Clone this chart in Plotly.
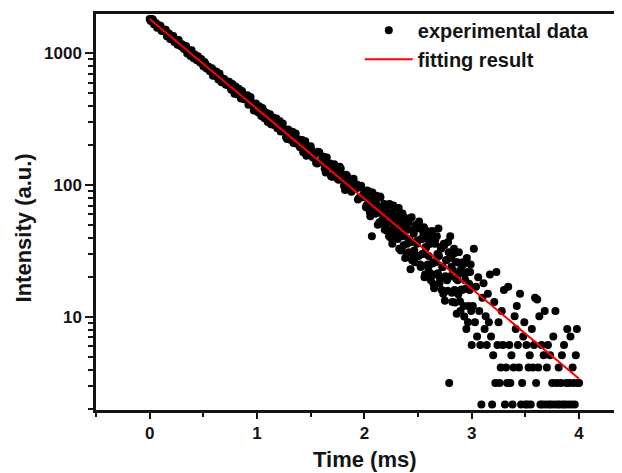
import plotly.graph_objects as go

time_even = [
    0.00, 0.02, 0.04, 0.06, 0.08, 0.10, 0.12, 0.14, 0.16, 0.18,
    0.20, 0.22, 0.24, 0.26, 0.28, 0.30, 0.32, 0.34, 0.36, 0.38,
    0.40, 0.42, 0.44, 0.46, 0.48, 0.50, 0.52, 0.54, 0.56, 0.58,
    0.60, 0.62, 0.64, 0.66, 0.68, 0.70, 0.72, 0.74, 0.76, 0.78,
    0.80, 0.82, 0.84, 0.86, 0.88, 0.90, 0.92, 0.94, 0.96, 0.98,
    1.00, 1.02, 1.04, 1.06, 1.08, 1.10, 1.12, 1.14, 1.16, 1.18,
    1.20, 1.22, 1.24, 1.26, 1.28, 1.30, 1.32, 1.34, 1.36, 1.38,
    1.40, 1.42, 1.44, 1.46, 1.48, 1.50, 1.52, 1.54, 1.56, 1.58,
    1.60, 1.62, 1.64, 1.66, 1.68, 1.70, 1.72, 1.74, 1.76, 1.78,
    1.80, 1.82, 1.84, 1.86, 1.88, 1.90, 1.92, 1.94, 1.96, 1.98,
    2.00,
]
intensity_even = [
    1820, 1817, 1658, 1689, 1589, 1618, 1478, 1476, 1345, 1413,
    1290, 1353, 1249, 1162, 1196, 1170, 1079, 1131, 1024, 952,
    990, 979, 885, 884, 907, 797, 828, 787, 732, 769,
    710, 729, 634, 659, 613, 630, 581, 609, 529, 545,
    559, 487, 501, 518, 448, 465, 408, 466, 407, 379,
    390, 396, 335, 366, 334, 301, 345, 316, 286, 320,
    294, 255, 294, 257, 224, 258, 229, 209, 247, 219,
    194, 220, 198, 167, 196, 197, 162, 172, 146, 178,
    151, 164, 125, 145, 146, 116, 144, 124, 110, 134,
    119, 92, 117, 101, 89, 112, 94, 78, 96, 81,
    85,
]
time_odd = [
    0.01, 0.03, 0.05, 0.07, 0.09, 0.11, 0.13, 0.15, 0.17, 0.19,
    0.21, 0.23, 0.25, 0.27, 0.29, 0.31, 0.33, 0.35, 0.37, 0.39,
    0.41, 0.43, 0.45, 0.47, 0.49, 0.51, 0.53, 0.55, 0.57, 0.59,
    0.61, 0.63, 0.65, 0.67, 0.69, 0.71, 0.73, 0.75, 0.77, 0.79,
    0.81, 0.83, 0.85, 0.87, 0.89, 0.91, 0.93, 0.95, 0.97, 0.99,
    1.01, 1.03, 1.05, 1.07, 1.09, 1.11, 1.13, 1.15, 1.17, 1.19,
    1.21, 1.23, 1.25, 1.27, 1.29, 1.31, 1.33, 1.35, 1.37, 1.39,
    1.41, 1.43, 1.45, 1.47, 1.49, 1.51, 1.53, 1.55, 1.57, 1.59,
    1.61, 1.63, 1.65, 1.67, 1.69, 1.71, 1.73, 1.75, 1.77, 1.79,
    1.81, 1.83, 1.85, 1.87, 1.89, 1.91, 1.93, 1.95, 1.97, 1.99,
]
intensity_odd = [
    1755, 1805, 1699, 1565, 1626, 1485, 1514, 1510, 1379, 1283,
    1348, 1217, 1241, 1262, 1131, 1107, 1137, 998, 1048, 1055,
    917, 935, 951, 853, 859, 858, 767, 790, 743, 677,
    713, 663, 702, 604, 641, 578, 607, 554, 585, 494,
    520, 538, 454, 482, 450, 480, 414, 421, 369, 416,
    358, 375, 385, 322, 352, 335, 290, 326, 293, 270,
    306, 259, 266, 231, 264, 221, 254, 222, 206, 222,
    211, 178, 215, 186, 170, 184, 168, 148, 179, 150,
    163, 134, 162, 137, 117, 132, 137, 112, 138, 112,
    99, 120, 108, 94, 106, 94, 101, 80, 99, 85,
]
time_late = [
    2.01, 2.02, 2.03, 2.04, 2.05, 2.06, 2.07, 2.08, 2.09, 2.10,
    2.11, 2.12, 2.13, 2.14, 2.15, 2.16, 2.17, 2.18, 2.19, 2.20,
    2.21, 2.22, 2.23, 2.24, 2.25, 2.26, 2.27, 2.28, 2.29, 2.30,
    2.31, 2.32, 2.33, 2.34, 2.35, 2.36, 2.37, 2.38, 2.39, 2.40,
    2.41, 2.42, 2.43, 2.44, 2.45, 2.46, 2.47, 2.48, 2.49, 2.50,
    2.51, 2.52, 2.53, 2.54, 2.55, 2.56, 2.57, 2.58, 2.59, 2.60,
    2.61, 2.62, 2.63, 2.64, 2.65, 2.66, 2.67, 2.68, 2.69, 2.70,
    2.71, 2.72, 2.73, 2.74, 2.75, 2.76, 2.77, 2.78, 2.79, 2.80,
    2.81, 2.82, 2.83, 2.84, 2.85, 2.86, 2.87, 2.88, 2.89, 2.90,
    2.91, 2.92, 2.93, 2.94, 2.95, 2.96, 2.97, 2.98, 2.99, 3.00,
    3.01, 3.02, 3.03, 3.04, 3.05, 3.06, 3.07, 3.08, 3.09, 3.10,
    3.11, 3.12, 3.13, 3.14, 3.15, 3.16, 3.17, 3.18, 3.19, 3.20,
    3.21, 3.22, 3.23, 3.24, 3.25, 3.26, 3.27, 3.28, 3.29, 3.30,
    3.31, 3.32, 3.33, 3.34, 3.35, 3.36, 3.37, 3.38, 3.39, 3.40,
    3.41, 3.42, 3.43, 3.44, 3.45, 3.46, 3.47, 3.48, 3.49, 3.50,
    3.51, 3.52, 3.53, 3.54, 3.55, 3.56, 3.57, 3.58, 3.59, 3.60,
    3.61, 3.62, 3.63, 3.64, 3.65, 3.66, 3.67, 3.68, 3.69, 3.70,
    3.71, 3.72, 3.73, 3.74, 3.75, 3.76, 3.77, 3.78, 3.79, 3.80,
    3.81, 3.82, 3.83, 3.84, 3.85, 3.86, 3.87, 3.88, 3.89, 3.90,
    3.91, 3.92, 3.93, 3.94, 3.95, 3.96, 3.97, 3.98, 3.99, 4.00,
]
intensity_late = [
    89, 70, 79, 90, 63, 79, 41, 68, 81, 61,
    83, 62, 69, 52, 81, 62, 53, 68, 46, 63,
    52, 71, 41, 60, 53, 36, 70, 45, 52, 59,
    39, 67, 49, 32, 54, 41, 57, 28, 47, 36,
    52, 39, 23, 57, 30, 43, 26, 50, 36, 29,
    53, 25, 39, 30, 43, 20, 34, 45, 25, 29,
    36, 19, 45, 26, 16.5, 38, 21, 30, 47, 18,
    34, 16, 24, 36, 13.3, 27, 19, 37, 3.16, 41,
    24, 13, 30, 16, 26, 10.6, 19, 31, 13.2, 23,
    16, 25, 10.1, 19, 8.13, 22, 12.1, 16, 25, 6.13,
    12.13, 33, 9.13, 17, 7.13, 20, 11.13, 6.13, 2.17, 14,
    18, 8.13, 10.13, 6.13, 15, 9.13, 21, 7.13, 2.17, 5.13,
    13, 3.16, 22, 6.13, 9.13, 3.16, 4.14, 11.13, 6.13, 16,
    2.17, 4.14, 3.16, 17, 6.13, 3.16, 5.13, 2.17, 4.14, 10.13,
    8.13, 12.13, 6.13, 4.14, 15, 2.17, 3.16, 7.13, 9.13, 2.17,
    6.13, 2.17, 4.14, 5.13, 2.17, 8.13, 4.14, 6.13, 14, 3.16,
    13.6, 4.14, 10.13, 2.17, 6.13, 2.17, 5.13, 11.13, 2.17, 4.14,
    6.13, 2.17, 5.13, 2.17, 3.16, 7.13, 2.17, 11.13, 3.16, 2.17,
    4.14, 2.17, 3.16, 5.13, 2.17, 6.13, 2.17, 3.16, 8.13, 2.17,
    3.16, 7.13, 2.17, 4.14, 3.16, 2.17, 5.13, 8.13, 3.16, 3.16,
]
time_mid_extra = [
    2.005, 2.015, 2.025, 2.035, 2.045, 2.055, 2.065, 2.075, 2.085, 2.095,
    2.105, 2.115, 2.125, 2.135, 2.145, 2.155, 2.165, 2.175, 2.185, 2.195,
    2.205, 2.215, 2.225, 2.235, 2.245, 2.255, 2.265, 2.275, 2.285, 2.295,
    2.305, 2.315, 2.325, 2.335, 2.345, 2.355, 2.365, 2.375, 2.385, 2.395,
    2.405, 2.415, 2.425, 2.435, 2.445, 2.455, 2.465, 2.475, 2.485, 2.495,
    2.505, 2.515, 2.525, 2.535, 2.545, 2.555, 2.565, 2.575, 2.585, 2.595,
    2.605, 2.615, 2.625, 2.635, 2.645, 2.655, 2.665, 2.675, 2.685, 2.695,
    2.705, 2.715, 2.725, 2.735, 2.745, 2.755, 2.765, 2.775, 2.785, 2.795,
    2.805, 2.815, 2.825, 2.835, 2.845, 2.855, 2.865, 2.875, 2.885, 2.895,
    2.905, 2.915, 2.925, 2.935, 2.945, 2.955, 2.965, 2.975, 2.985, 2.995,
]
intensity_mid_extra = [
    82, 68, 91, 71, 82, 58, 73, 88, 62, 73,
    61, 78, 50, 67, 82, 53, 67, 57, 72, 48,
    66, 45, 56, 72, 40, 57, 47, 64, 43, 56,
    43, 61, 33, 51, 44, 61, 35, 46, 52, 30.5,
    46, 31, 56, 37, 27, 46, 32, 49, 29, 38,
    29, 47, 24, 39, 30, 48, 21, 33.5, 39, 23.5,
    36, 21.5, 41, 25.5, 17.7, 36, 26, 41, 21.5, 29,
    19.5, 33, 24, 15, 35, 20.4, 27, 15.8, 31, 20.3,
    28, 15.3, 22.6, 33, 12.9, 19.5, 26, 14.9, 21.5, 11.13,
    16.2, 26, 12.13, 21, 16.4, 28, 9.13, 17.9, 22, 11.13,
]

# ---- single-exponential fitting result (end points) ----
fit_time = [0.0, 4.0]
fit_intensity = [1820, 3.41]

# ---- axis ticks ----
x_major_ticks = [0, 1, 2, 3, 4]
x_minor_ticks = [-0.5, 0.5, 1.5, 2.5, 3.5]
y_major_ticks = [10, 100, 1000]
y_major_labels = ["10", "100", "1000"]
y_minor_ticks = [2, 3, 4, 5, 6, 7, 8, 9,
                 20, 30, 40, 50, 60, 70, 80, 90,
                 200, 300, 400, 500, 600, 700, 800, 900]

FONT = "Liberation Sans, Arial, Helvetica, sans-serif"
INK = "#141414"

fig = go.Figure()
fig.add_trace(go.Scatter(
    x=time_even + time_odd + time_late + time_mid_extra,
    y=intensity_even + intensity_odd + intensity_late + intensity_mid_extra,
    mode="markers",
    name="experimental data",
    marker=dict(color="black", size=8, line=dict(width=0)),
))
fig.add_trace(go.Scatter(
    x=fit_time,
    y=fit_intensity,
    mode="lines",
    name="fitting result",
    line=dict(color="#ff0000", width=2),
))

# The page body adds an 8px offset, so the figure is sized to fit the window.
fig.update_layout(
    width=614,
    height=465,
    margin=dict(l=88, r=0, t=6, b=63),
    paper_bgcolor="white",
    plot_bgcolor="white",
    font=dict(family=FONT, color=INK, weight="bold"),
    legend=dict(
        x=0.5015, y=1.008, xanchor="left", yanchor="top",
        bgcolor="rgba(0,0,0,0)",
        font=dict(family=FONT, size=20, color=INK, weight="bold"),
        itemwidth=48,
    ),
    xaxis=dict(
        range=[-0.5, 4.4],
        automargin=False,
        tickvals=x_major_ticks,
        ticks="outside", ticklen=6, tickwidth=2, tickcolor=INK,
        minor=dict(tickvals=x_minor_ticks, ticks="outside", ticklen=4,
                   tickwidth=2, tickcolor=INK, showgrid=False),
        showline=True, linewidth=2.5, linecolor=INK, mirror=True,
        showgrid=False, zeroline=False,
        tickfont=dict(family=FONT, size=17, color=INK, weight="bold"),
    ),
    yaxis=dict(
        type="log",
        range=[0.295, 3.298],
        automargin=False,
        tickvals=y_major_ticks, ticktext=y_major_labels,
        ticks="outside", ticklen=8, tickwidth=2, tickcolor=INK,
        minor=dict(tickvals=y_minor_ticks, ticks="outside", ticklen=5,
                   tickwidth=2, tickcolor=INK, showgrid=False),
        showline=True, linewidth=2.5, linecolor=INK,
        showgrid=False, zeroline=False,
        tickfont=dict(family=FONT, size=17, color=INK, weight="bold"),
    ),
    annotations=[
        dict(
            text="Intensity (a.u.)", textangle=-90,
            xref="paper", yref="paper", x=-0.1388, y=0.461,
            xanchor="center", yanchor="middle", showarrow=False,
            font=dict(family=FONT, size=22, color=INK, weight="bold"),
        ),
        dict(
            text="Time (ms)",
            xref="paper", yref="paper", x=0.511, y=-0.124,
            xanchor="center", yanchor="middle", showarrow=False,
            font=dict(family=FONT, size=22, color=INK, weight="bold"),
        ),
    ],
)

fig.write_html("out.html")
